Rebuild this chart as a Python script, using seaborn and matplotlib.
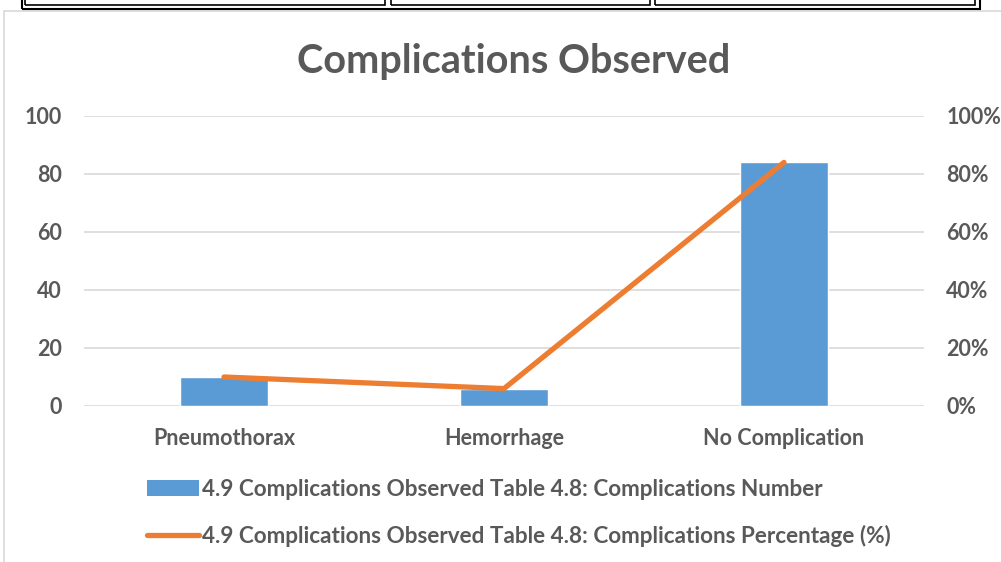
import numpy as np
import pandas as pd
import matplotlib
matplotlib.use("Agg")
import matplotlib.pyplot as plt
import seaborn as sns
from matplotlib.patches import Rectangle
from matplotlib.lines import Line2D
from matplotlib.patches import Patch

# data
categories = ["Pneumothorax", "Hemorrhage", "No Complication"]
numbers = [10, 6, 84]
percentages = [10, 6, 84]
bar_label = "4.9 Complications Observed Table 4.8: Complications Number"
line_label = "4.9 Complications Observed Table 4.8: Complications Percentage (%)"

df = pd.DataFrame({"category": categories, "number": numbers, "pct": percentages})

sns.set_theme(style="white")
plt.rcParams["font.family"] = ["Lato", "DejaVu Sans"]
txt = "#595959"
blue = "#5B9BD5"
orange = "#ED7D31"
fs = 15.5

fig = plt.figure(figsize=(10.01, 5.62), dpi=100)
W, H = 1001, 562
ax = fig.add_axes([84 / W, 1 - 406 / H, 840 / W, 290 / H])

sns.barplot(data=df, x="category", y="number", color=blue, width=0.314,
            saturation=1, ax=ax, zorder=2)
ax.set_ylim(0, 100)
ax.set_xlim(-0.5, 2.5)
ax.set_yticks(range(0, 101, 20))
ax.yaxis.grid(True, color="#D9D9D9", linewidth=1.2, zorder=0)
ax.set_axisbelow(True)
for s in ax.spines.values():
    s.set_visible(False)
ax.set_xlabel("")
ax.set_ylabel("")
ax.tick_params(axis="y", length=0, pad=16, labelsize=fs, labelcolor=txt)
ax.tick_params(axis="x", length=0, pad=16, labelsize=fs, labelcolor=txt)
for t in ax.get_xticklabels() + ax.get_yticklabels():
    t.set_fontweight("bold")

ax2 = ax.twinx()
sns.lineplot(data=df, x="category", y="pct", color=orange, linewidth=3.8,
             ax=ax2, sort=False, solid_capstyle="round")
ax2.set_ylim(0, 100)
ax2.set_yticks(range(0, 101, 20))
ax2.set_yticklabels([f"{v}%" for v in range(0, 101, 20)])
for s in ax2.spines.values():
    s.set_visible(False)
ax2.set_ylabel("")
ax2.tick_params(axis="y", length=0, pad=16, labelsize=fs, labelcolor=txt)
for t in ax2.get_yticklabels():
    t.set_fontweight("bold")

fig.text(0.513, 1 - 62 / H, "Complications Observed", ha="center", va="center",
         fontsize=28.5, fontweight="bold", color=txt)

handles = [Patch(facecolor=blue, edgecolor="none", label=bar_label),
           Line2D([], [], color=orange, linewidth=3.8, label=line_label)]
fig.legend(handles=handles, loc="upper left", bbox_to_anchor=(147 / W, 1 - 479 / H),
           frameon=False, labelcolor=txt, handlelength=2.3,
           handletextpad=0.15, labelspacing=1.1, borderpad=0, borderaxespad=0,
           prop={"weight": "bold", "size": 16.2})

# page decoration: chart frame and table cells above it
fig.add_artist(Rectangle((4 / W, -0.1), 1.1, 1 - 11 / H + 0.1, transform=fig.transFigure,
                         fill=False, edgecolor="#D9D9D9", linewidth=1.2))
fig.add_artist(Rectangle((22 / W, 1 - 9 / H), 958 / W, 0.1, transform=fig.transFigure,
                         fill=False, edgecolor="black", linewidth=1.5))
for x0, x1 in [(25, 385), (391, 650), (655, 975)]:
    fig.add_artist(Rectangle((x0 / W, 1 - 5 / H), (x1 - x0) / W, 0.1, transform=fig.transFigure,
                             fill=False, edgecolor="black", linewidth=1.2))

fig.savefig("out.png", dpi=100, facecolor="white")
